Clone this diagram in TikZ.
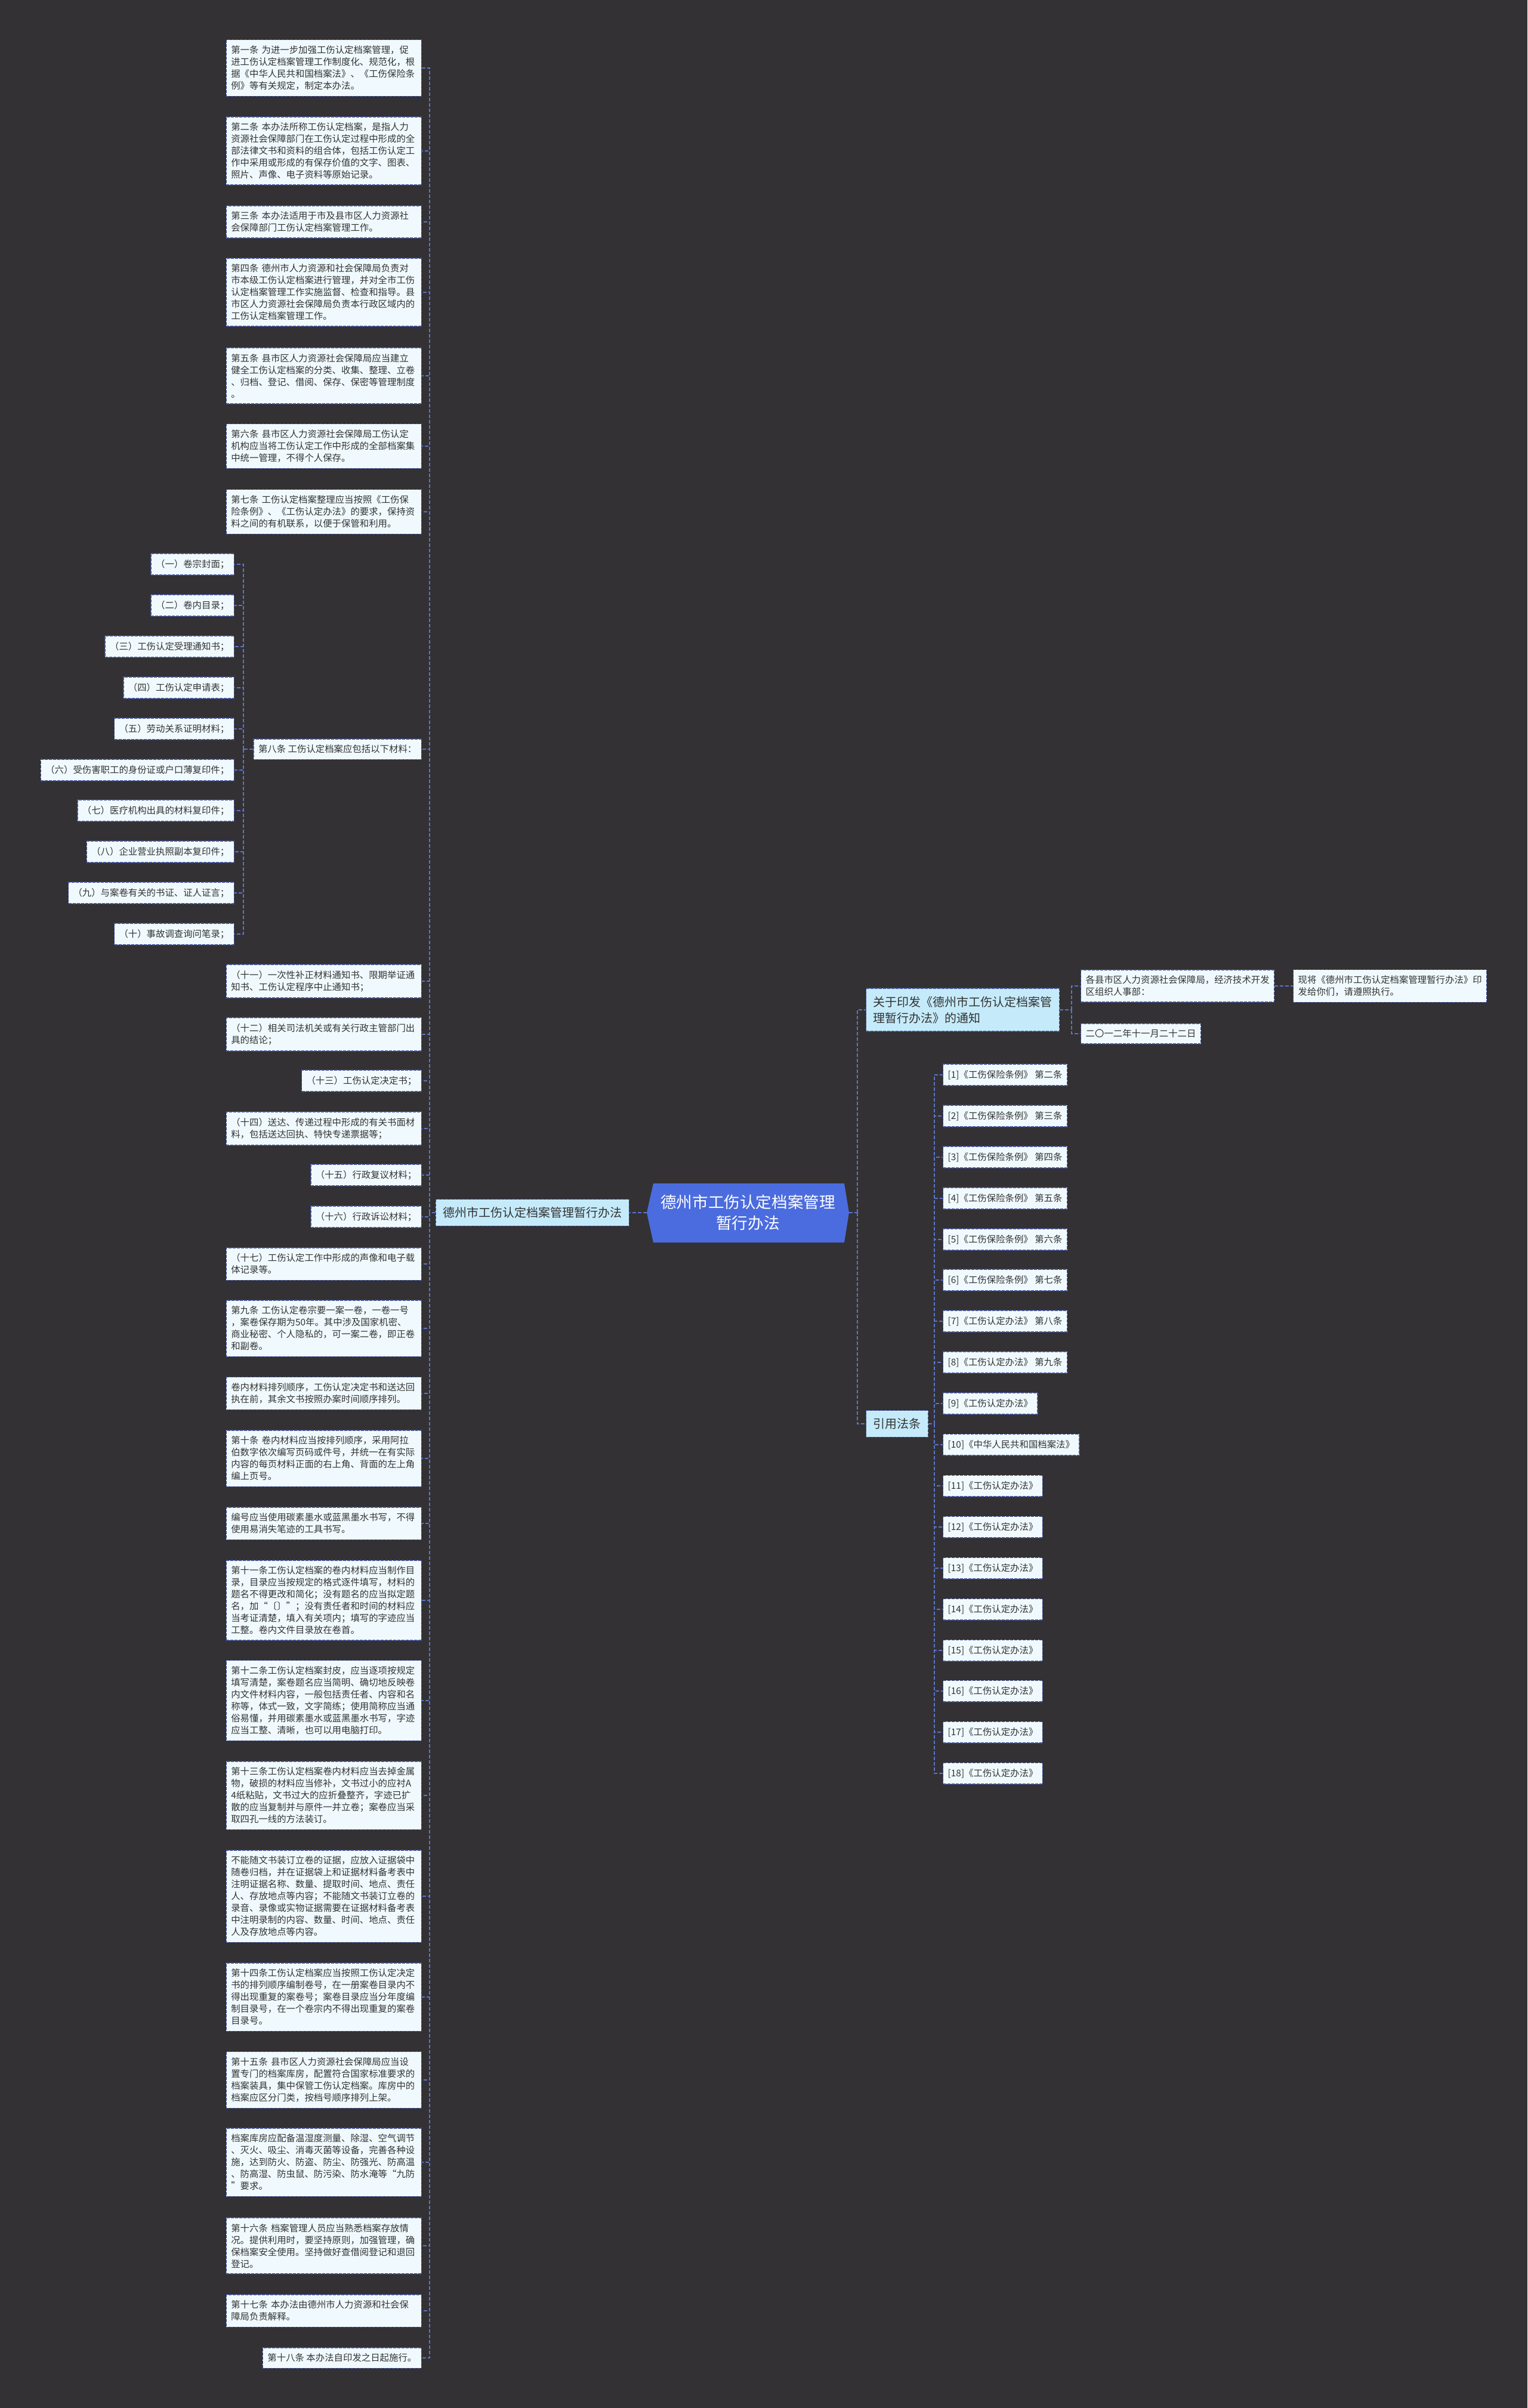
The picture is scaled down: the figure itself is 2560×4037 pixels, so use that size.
\documentclass[tikz,border=0pt]{standalone}
\usepackage{fontspec}
\setmainfont{Noto Sans CJK SC}

\definecolor{bgdark}{HTML}{333133}
\definecolor{boxfill}{HTML}{F0FAFE}
\definecolor{boxline}{HTML}{46549A}
\definecolor{branchfill}{HTML}{C5EBFB}
\definecolor{linkblue}{HTML}{5A74CF}
\definecolor{rootblue}{HTML}{4B6CDE}
\definecolor{textdark}{HTML}{333333}

\begin{document}
\begin{tikzpicture}[x=0.5pt, y=-0.5pt,
    link/.style={draw=linkblue, dash pattern=on 3pt off 1.5pt, line width=0.9pt},
    leaf/.style={draw=boxline, dash pattern=on 2.5pt off 1pt, line width=0.7pt,
        fill=boxfill, text=textdark, font=\fontsize{7.7pt}{10pt}\selectfont,
        inner xsep=4pt, inner ysep=5pt, align=left},
    wide/.style={leaf, text width=155.5pt, anchor=east},
    branch/.style={draw=boxline, dash pattern=on 2.5pt off 1pt, line width=0.7pt,
        fill=branchfill, text=textdark, font=\fontsize{10pt}{13.5pt}\selectfont,
        inner xsep=6pt, inner ysep=6.5pt, align=left},
    roottext/.style={text=white, font=\fontsize{13.3pt}{17.5pt}\selectfont, align=center,
        minimum width=169.5pt, minimum height=49.5pt, inner sep=0pt}]

    % ==== BACKGROUND ====
    \fill[bgdark] (0,0) rectangle (2560,4037);

    % ==== ROOT ====
    \fill[rootblue] (1084,2033) -- (1095,1984) -- (1415,1984) -- (1423,2033)
        -- (1415,2083) -- (1095,2083) -- cycle;
    \node[roottext] (root) at (1253.5,2033) {德州市工伤认定档案管理\\暂行办法};

    % ==== LEFT BRANCH ====
    \node[branch, anchor=east] (law) at (1055,2033) {德州市工伤认定档案管理暂行办法};

    \node[wide] (t1) at (707,114) {第一条 为进一步加强工伤认定档案管理，促\\进工伤认定档案管理工作制度化、规范化，根\\据《中华人民共和国档案法》、《工伤保险条\\例》等有关规定，制定本办法。};
    \node[wide] (t2) at (707,253) {第二条 本办法所称工伤认定档案，是指人力\\资源社会保障部门在工伤认定过程中形成的全\\部法律文书和资料的组合体，包括工伤认定工\\作中采用或形成的有保存价值的文字、图表、\\照片、声像、电子资料等原始记录。};
    \node[wide] (t3) at (707,372) {第三条 本办法适用于市及县市区人力资源社\\会保障部门工伤认定档案管理工作。};
    \node[wide] (t4) at (707,490) {第四条 德州市人力资源和社会保障局负责对\\市本级工伤认定档案进行管理，并对全市工伤\\认定档案管理工作实施监督、检查和指导。县\\市区人力资源社会保障局负责本行政区域内的\\工伤认定档案管理工作。};
    \node[wide] (t5) at (707,630) {第五条 县市区人力资源社会保障局应当建立\\健全工伤认定档案的分类、收集、整理、立卷\\、归档、登记、借阅、保存、保密等管理制度\\。};
    \node[wide] (t6) at (707,748) {第六条 县市区人力资源社会保障局工伤认定\\机构应当将工伤认定工作中形成的全部档案集\\中统一管理，不得个人保存。};
    \node[wide] (t7) at (707,858) {第七条 工伤认定档案整理应当按照《工伤保\\险条例》、《工伤认定办法》的要求，保持资\\料之间的有机联系，以便于保管和利用。};
    \node[leaf, anchor=east] (t8) at (707,1256) {第八条 工伤认定档案应包括以下材料：};

    % ==== MATERIALS (ONE TO TEN) ====
    \node[leaf, anchor=east] (i1) at (393,946) {（一）卷宗封面；};
    \node[leaf, anchor=east] (i2) at (393,1015) {（二）卷内目录；};
    \node[leaf, anchor=east] (i3) at (393,1084) {（三）工伤认定受理通知书；};
    \node[leaf, anchor=east] (i4) at (393,1153) {（四）工伤认定申请表；};
    \node[leaf, anchor=east] (i5) at (393,1222) {（五）劳动关系证明材料；};
    \node[leaf, anchor=east] (i6) at (393,1291) {（六）受伤害职工的身份证或户口薄复印件；};
    \node[leaf, anchor=east] (i7) at (393,1359) {（七）医疗机构出具的材料复印件；};
    \node[leaf, anchor=east] (i8) at (393,1428) {（八）企业营业执照副本复印件；};
    \node[leaf, anchor=east] (i9) at (393,1497) {（九）与案卷有关的书证、证人证言；};
    \node[leaf, anchor=east] (i10) at (393,1566) {（十）事故调查询问笔录；};

    % ==== MATERIALS (ELEVEN TO SEVENTEEN) ====
    \node[wide] (i11) at (707,1645) {（十一）一次性补正材料通知书、限期举证通\\知书、工伤认定程序中止通知书；};
    \node[wide] (i12) at (707,1734) {（十二）相关司法机关或有关行政主管部门出\\具的结论；};
    \node[leaf, anchor=east] (i13) at (707,1812) {（十三）工伤认定决定书；};
    \node[wide] (i14) at (707,1892) {（十四）送达、传递过程中形成的有关书面材\\料，包括送达回执、特快专递票据等；};
    \node[leaf, anchor=east] (i15) at (707,1970) {（十五）行政复议材料；};
    \node[leaf, anchor=east] (i16) at (707,2040) {（十六）行政诉讼材料；};
    \node[wide] (i17) at (707,2119) {（十七）工伤认定工作中形成的声像和电子载\\体记录等。};

    % ==== ARTICLES NINE TO EIGHTEEN ====
    \node[wide] (t9) at (707,2227) {第九条 工伤认定卷宗要一案一卷，一卷一号\\，案卷保存期为50年。其中涉及国家机密、\\商业秘密、个人隐私的，可一案二卷，即正卷\\和副卷。};
    \node[wide] (t9b) at (707,2336) {卷内材料排列顺序，工伤认定决定书和送达回\\执在前，其余文书按照办案时间顺序排列。};
    \node[wide] (t10) at (707,2445) {第十条 卷内材料应当按排列顺序，采用阿拉\\伯数字依次编写页码或件号，并统一在有实际\\内容的每页材料正面的右上角、背面的左上角\\编上页号。};
    \node[wide] (t10b) at (707,2554) {编号应当使用碳素墨水或蓝黑墨水书写，不得\\使用易消失笔迹的工具书写。};
    \node[wide] (t11) at (707,2683) {第十一条工伤认定档案的卷内材料应当制作目\\录，目录应当按规定的格式逐件填写，材料的\\题名不得更改和简化；没有题名的应当拟定题\\名，加“〔〕”；没有责任者和时间的材料应\\当考证清楚，填入有关项内；填写的字迹应当\\工整。卷内文件目录放在卷首。};
    \node[wide] (t12) at (707,2851) {第十二条工伤认定档案封皮，应当逐项按规定\\填写清楚，案卷题名应当简明、确切地反映卷\\内文件材料内容，一般包括责任者、内容和名\\称等，体式一致，文字简练；使用简称应当通\\俗易懂，并用碳素墨水或蓝黑墨水书写，字迹\\应当工整、清晰，也可以用电脑打印。};
    \node[wide] (t13) at (707,3010) {第十三条工伤认定档案卷内材料应当去掉金属\\物，破损的材料应当修补，文书过小的应衬A\\4纸粘贴，文书过大的应折叠整齐，字迹已扩\\散的应当复制并与原件一并立卷；案卷应当采\\取四孔一线的方法装订。};
    \node[wide] (t13b) at (707,3179) {不能随文书装订立卷的证据，应放入证据袋中\\随卷归档，并在证据袋上和证据材料备考表中\\注明证据名称、数量、提取时间、地点、责任\\人、存放地点等内容；不能随文书装订立卷的\\录音、录像或实物证据需要在证据材料备考表\\中注明录制的内容、数量、时间、地点、责任\\人及存放地点等内容。};
    \node[wide] (t14) at (707,3348) {第十四条工伤认定档案应当按照工伤认定决定\\书的排列顺序编制卷号，在一册案卷目录内不\\得出现重复的案卷号；案卷目录应当分年度编\\制目录号，在一个卷宗内不得出现重复的案卷\\目录号。};
    \node[wide] (t15) at (707,3487) {第十五条 县市区人力资源社会保障局应当设\\置专门的档案库房，配置符合国家标准要求的\\档案装具，集中保管工伤认定档案。库房中的\\档案应区分门类，按档号顺序排列上架。};
    \node[wide] (t15b) at (707,3625) {档案库房应配备温湿度测量、除湿、空气调节\\、灭火、吸尘、消毒灭菌等设备，完善各种设\\施，达到防火、防盗、防尘、防强光、防高温\\、防高湿、防虫鼠、防污染、防水淹等“九防\\”要求。};
    \node[wide] (t16) at (707,3765) {第十六条 档案管理人员应当熟悉档案存放情\\况。提供利用时，要坚持原则，加强管理，确\\保档案安全使用。坚持做好查借阅登记和退回\\登记。};
    \node[wide] (t17) at (707,3874) {第十七条 本办法由德州市人力资源和社会保\\障局负责解释。};
    \node[leaf, anchor=east] (t18) at (707,3953) {第十八条 本办法自印发之日起施行。};

    % ==== RIGHT BRANCHES ====
    \node[branch, anchor=west] (notice) at (1451,1693) {关于印发《德州市工伤认定档案管\\理暂行办法》的通知};
    \node[leaf, anchor=west] (to) at (1811,1653) {各县市区人力资源社会保障局，经济技术开发\\区组织人事部：};
    \node[leaf, anchor=west] (now) at (2167,1653) {现将《德州市工伤认定档案管理暂行办法》印\\发给你们，请遵照执行。};
    \node[leaf, anchor=west] (date) at (1811,1733) {二〇一二年十一月二十二日};

    \node[branch, anchor=west] (cite) at (1451,2387) {引用法条};

    % ==== CITED ARTICLES ====
    \node[leaf, anchor=west] (r1) at (1580,1802) {[1]《工伤保险条例》 第二条};
    \node[leaf, anchor=west] (r2) at (1580,1871) {[2]《工伤保险条例》 第三条};
    \node[leaf, anchor=west] (r3) at (1580,1940) {[3]《工伤保险条例》 第四条};
    \node[leaf, anchor=west] (r4) at (1580,2009) {[4]《工伤保险条例》 第五条};
    \node[leaf, anchor=west] (r5) at (1580,2078) {[5]《工伤保险条例》 第六条};
    \node[leaf, anchor=west] (r6) at (1580,2146) {[6]《工伤保险条例》 第七条};
    \node[leaf, anchor=west] (r7) at (1580,2215) {[7]《工伤认定办法》 第八条};
    \node[leaf, anchor=west] (r8) at (1580,2284) {[8]《工伤认定办法》 第九条};
    \node[leaf, anchor=west] (r9) at (1580,2353) {[9]《工伤认定办法》};
    \node[leaf, anchor=west] (r10) at (1580,2422) {[10]《中华人民共和国档案法》};
    \node[leaf, anchor=west] (r11) at (1580,2491) {[11]《工伤认定办法》};
    \node[leaf, anchor=west] (r12) at (1580,2560) {[12]《工伤认定办法》};
    \node[leaf, anchor=west] (r13) at (1580,2629) {[13]《工伤认定办法》};
    \node[leaf, anchor=west] (r14) at (1580,2698) {[14]《工伤认定办法》};
    \node[leaf, anchor=west] (r15) at (1580,2767) {[15]《工伤认定办法》};
    \node[leaf, anchor=west] (r16) at (1580,2835) {[16]《工伤认定办法》};
    \node[leaf, anchor=west] (r17) at (1580,2904) {[17]《工伤认定办法》};
    \node[leaf, anchor=west] (r18) at (1580,2973) {[18]《工伤认定办法》};

    % ==== CONNECTORS ====
    \coordinate (lbus) at (720,2033);
    \coordinate (sbus) at (408,1256);
    \coordinate (rbus) at (1437,2033);
    \coordinate (nbus) at (1796,1693);
    \coordinate (cbus) at (1566,2387);

    \draw[link] (root.west) -- (law.east);
    \draw[link] (law.west) -- (lbus)
        (lbus) |- (t1.east) (lbus) |- (t2.east) (lbus) |- (t3.east)
        (lbus) |- (t4.east) (lbus) |- (t5.east) (lbus) |- (t6.east)
        (lbus) |- (t7.east) (lbus) |- (t8.east)
        (lbus) |- (i11.east) (lbus) |- (i12.east) (lbus) |- (i13.east)
        (lbus) |- (i14.east) (lbus) |- (i15.east) (lbus) |- (i16.east)
        (lbus) |- (i17.east)
        (lbus) |- (t9.east) (lbus) |- (t9b.east) (lbus) |- (t10.east)
        (lbus) |- (t10b.east) (lbus) |- (t11.east) (lbus) |- (t12.east)
        (lbus) |- (t13.east) (lbus) |- (t13b.east) (lbus) |- (t14.east)
        (lbus) |- (t15.east) (lbus) |- (t15b.east) (lbus) |- (t16.east)
        (lbus) |- (t17.east) (lbus) |- (t18.east);
    \draw[link] (t8.west) -- (sbus)
        (sbus) |- (i1.east) (sbus) |- (i2.east) (sbus) |- (i3.east)
        (sbus) |- (i4.east) (sbus) |- (i5.east) (sbus) |- (i6.east)
        (sbus) |- (i7.east) (sbus) |- (i8.east) (sbus) |- (i9.east)
        (sbus) |- (i10.east);

    \draw[link] (root.east) -- (rbus)
        (rbus) |- (notice.west) (rbus) |- (cite.west);
    \draw[link] (notice.east) -- (nbus)
        (nbus) |- (to.west) (nbus) |- (date.west);
    \draw[link] (to.east) -- (now.west);
    \draw[link] (cite.east) -- (cbus)
        (cbus) |- (r1.west) (cbus) |- (r2.west) (cbus) |- (r3.west)
        (cbus) |- (r4.west) (cbus) |- (r5.west) (cbus) |- (r6.west)
        (cbus) |- (r7.west) (cbus) |- (r8.west) (cbus) |- (r9.west)
        (cbus) |- (r10.west) (cbus) |- (r11.west) (cbus) |- (r12.west)
        (cbus) |- (r13.west) (cbus) |- (r14.west) (cbus) |- (r15.west)
        (cbus) |- (r16.west) (cbus) |- (r17.west) (cbus) |- (r18.west);
\end{tikzpicture}
\end{document}
